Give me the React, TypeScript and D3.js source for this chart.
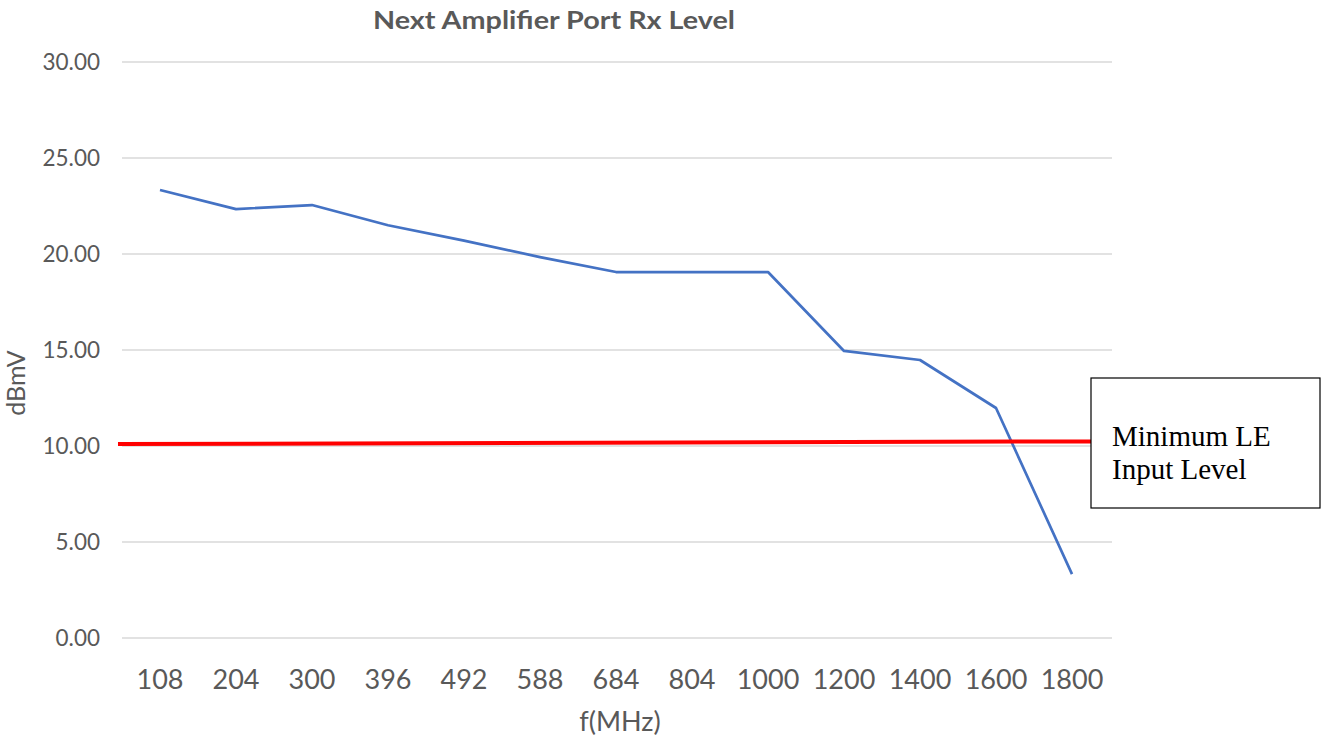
import React from "react";
import * as d3 from "d3";

const categories = ["108", "204", "300", "396", "492", "588", "684", "804", "1000", "1200", "1400", "1600", "1800"];
const rxLevel = [23.33, 22.34, 22.55, 21.5, 20.7, 19.84, 19.06, 19.06, 19.06, 14.95, 14.48, 11.98, 3.33];
const yTicks = [0, 5, 10, 15, 20, 25, 30];
const minLevelStart = 10.1;
const minLevelEnd = 10.24;
const title = "Next Amplifier Port Rx Level";
const annotationLines = ["Minimum LE", "Input Level"];

export default function App() {
  const W = 1327, H = 740;
  const left = 122, right = 1110, top = 62, bottom = 638;
  const x = d3.scaleBand<string>().domain(categories).range([left, right]);
  const y = d3.scaleLinear().domain([0, 30]).range([bottom, top]);
  const line = d3.line<number>()
    .x((_, i) => (x(categories[i]) as number) + x.bandwidth() / 2)
    .y((d) => y(d));
  const boxX = 1091, boxY = 378, boxW = 229, boxH = 130;
  const grey = "#595959";
  return (
    <svg width={W} height={H} style={{ position: "absolute", left: 0, top: 0, background: "#fff" }}>
      <text x={554} y={29} textAnchor="middle" fontFamily="Lato, 'Open Sans', sans-serif" fontWeight="bold" fontSize={25} fill={grey} textLength={362} lengthAdjust="spacingAndGlyphs">{title}</text>
      {yTicks.map((t) => (
        <g key={t}>
          <line x1={left} x2={1112} y1={y(t)} y2={y(t)} stroke="#d9d9d9" strokeWidth={1.3} />
          <text x={100} y={y(t) + 8} textAnchor="end" fontFamily="Lato, 'Open Sans', sans-serif" fontSize={22.5} fill={grey}>{d3.format(".2f")(t)}</text>
        </g>
      ))}
      {categories.map((c) => (
        <text key={c} x={(x(c) as number) + x.bandwidth() / 2} y={689} textAnchor="middle" fontFamily="Lato, 'Open Sans', sans-serif" fontSize={27} fill={grey}>{c}</text>
      ))}
      <text transform={`translate(25,383) rotate(-90)`} textAnchor="middle" fontFamily="Lato, 'Open Sans', sans-serif" fontSize={25} fill={grey}>dBmV</text>
      <text x={620} y={731} textAnchor="middle" fontFamily="Lato, 'Open Sans', sans-serif" fontSize={27} fill={grey}>f(MHz)</text>
      <path d={line(rxLevel) || ""} fill="none" stroke="#4472C4" strokeWidth={2.7} strokeLinejoin="round" />
      <line x1={left - 4} x2={boxX} y1={y(minLevelStart)} y2={y(minLevelEnd)} stroke="#ff0000" strokeWidth={4} />
      <rect x={boxX} y={boxY} width={boxW} height={boxH} fill="#fff" stroke="#000" strokeWidth={1.2} />
      {annotationLines.map((t, i) => (
        <text key={t} x={1112} y={446 + i * 33} fontFamily="'Liberation Serif', 'Times New Roman', serif" fontSize={29} fill="#000">{t}</text>
      ))}
    </svg>
  );
}
